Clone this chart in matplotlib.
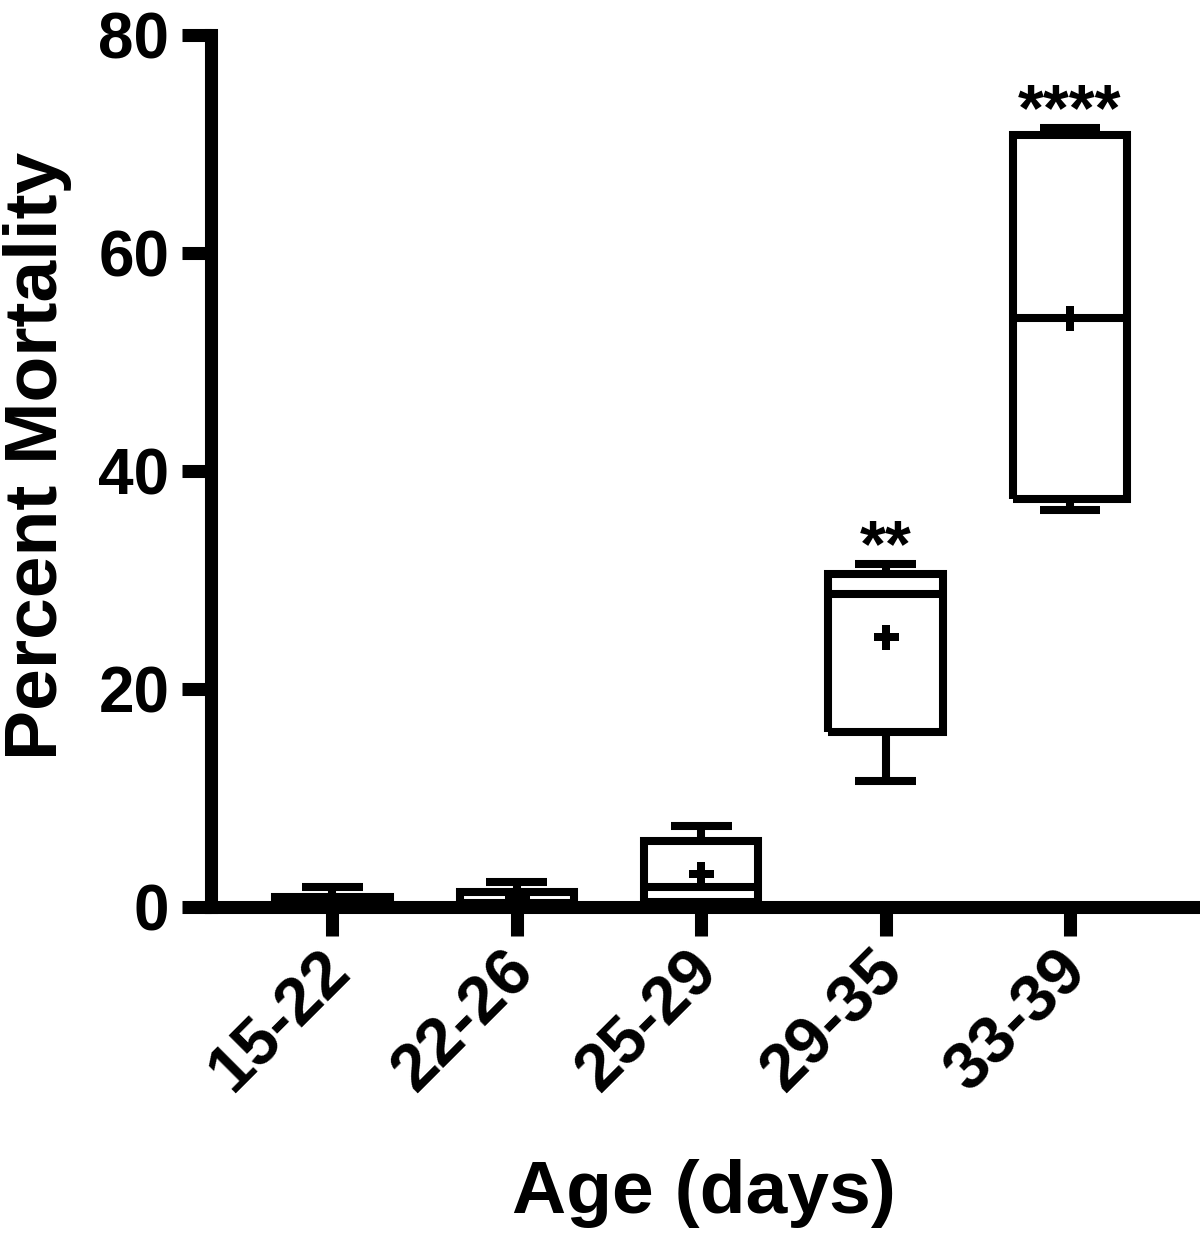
import matplotlib
matplotlib.use('Agg')
import matplotlib.pyplot as plt
from matplotlib.transforms import ScaledTranslation

plt.rcParams['font.family'] = ['Liberation Sans', 'DejaVu Sans']
plt.rcParams['font.weight'] = 'bold'

# Box plot summary values
categories = ['15-22', '22-26', '25-29', '29-35', '33-39']
q1 = [0.0, 0.0, 0.45, 16.05, 37.4]
medians = [0.0, 0.4, 1.85, 28.7, 54.0]
q3 = [0.95, 1.35, 6.05, 30.55, 70.8]
whislo = [0.0, 0.0, 0.0, 11.55, 36.4]
whishi = [1.8, 2.3, 7.4, 31.5, 71.5]
means = [0.5, 0.8, 3.05, 24.8, 54.0]
stars = ['', '', '', '**', '****']

stats = []
for i, name in enumerate(categories):
    stats.append(dict(label=name, q1=q1[i], med=medians[i], q3=q3[i],
                      whislo=whislo[i], whishi=whishi[i], mean=means[i],
                      fliers=[]))

fig = plt.figure(figsize=(12, 12.37), dpi=100)
ax = fig.add_axes([0.1758, 0.2668, 1.0 - 0.1758, 0.9717 - 0.2668])

lw = 5.8
line = dict(color='black', linewidth=lw, solid_joinstyle='miter',
            solid_capstyle='butt')
bp = ax.bxp(stats, positions=range(len(categories)), widths=0.62,
            capwidths=0.33, showmeans=True, showfliers=False,
            boxprops=line, whiskerprops=line, capprops=line,
            medianprops=line,
            meanprops=dict(marker='P', markersize=18, markerfacecolor='black',
                           markeredgewidth=0))
for group in bp.values():
    for artist in group:
        artist.set_clip_on(False)

for i, s in enumerate(stars):
    if s:
        ax.text(i, whishi[i] - 0.2, s, ha='center', va='baseline',
                fontsize=48, fontweight='bold')

ax.set_xlim(-0.659, 4.705)
ax.set_ylim(0, 80)
ax.set_yticks([0, 20, 40, 60, 80])
ax.set_xticks(range(len(categories)))
ax.set_xticklabels(categories, rotation=45, ha='right', va='top',
                   rotation_mode='anchor')

for side in ['top', 'right']:
    ax.spines[side].set_visible(False)
for side in ['left', 'bottom']:
    ax.spines[side].set_linewidth(9.4)
    ax.spines[side].set_capstyle('projecting')

ax.tick_params(axis='both', width=9.4, length=21, color='black')
ax.tick_params(axis='y', labelsize=46, pad=9)
ax.tick_params(axis='x', labelsize=48, pad=2)

offset = ScaledTranslation(-14 / 100, 0, fig.dpi_scale_trans)
for lab in ax.get_xticklabels():
    lab.set_transform(lab.get_transform() + offset)

ax.set_ylabel('Percent Mortality', fontsize=54, fontweight='bold')
ax.yaxis.set_label_coords(-0.1405, 0.517)
ax.set_xlabel('Age (days)', fontsize=54, fontweight='bold')
ax.xaxis.set_label_coords(0.4985, -0.289)

fig.savefig('out.png', dpi=100)
